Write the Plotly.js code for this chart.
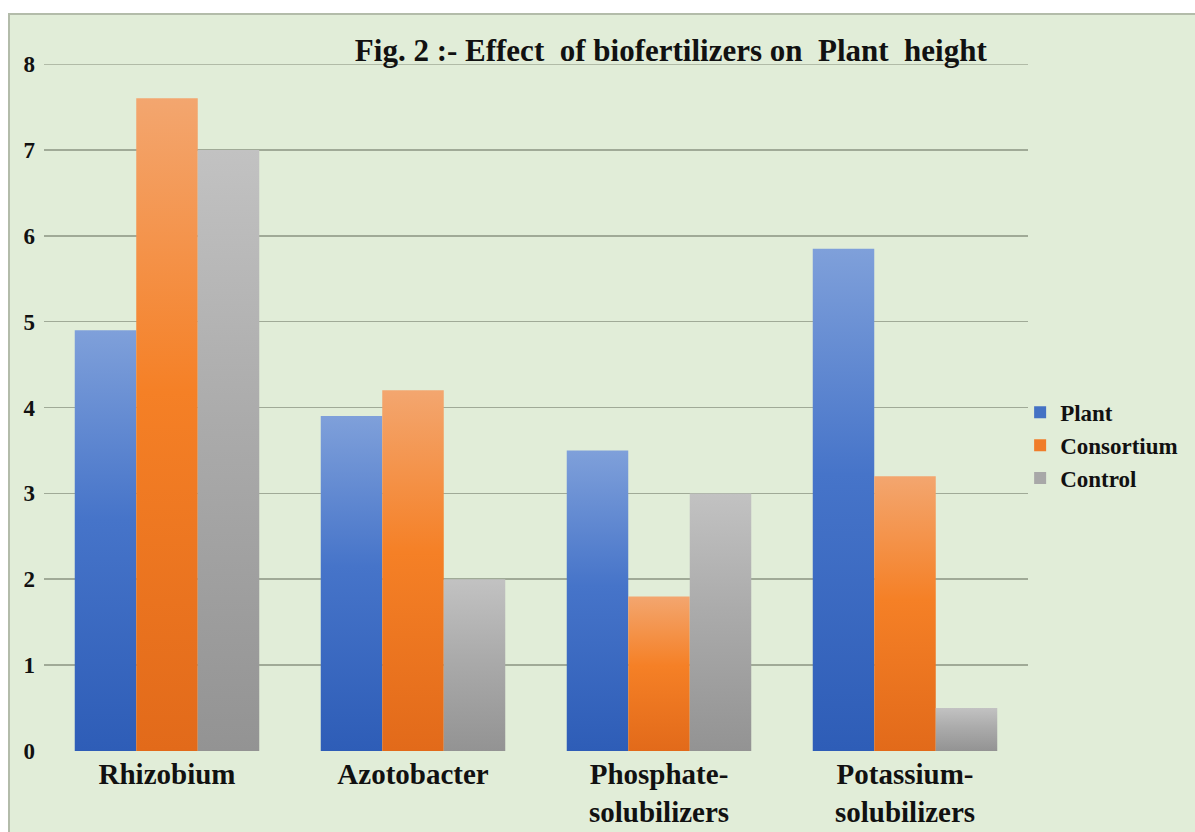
<!DOCTYPE html>
<html>
<head>
<meta charset="utf-8">
<script src="https://cdn.plot.ly/plotly-3.0.1.min.js"></script>
<style>
  html, body { margin: 0; padding: 0; background: #ffffff; width: 1195px; height: 832px; overflow: hidden; }
  #frame { position: absolute; left: 8px; top: 13px; width: 1187px; height: 819px; background: #e1edd8;
           border-left: 2px solid #b3bcaa; border-top: 2px solid #b3bcaa; box-sizing: border-box; }
  #chart { position: absolute; left: 0; top: 0; width: 1195px; height: 832px; }
</style>
</head>
<body>
<div id="frame"></div>
<div id="chart"></div>
<script>
const categories = ["Rhizobium", "Azotobacter", "Phosphate-<br>solubilizers", "Potassium-<br>solubilizers"];
const seriesNames = ["Plant", "Consortium", "Control"];
const plantValues = [4.9, 3.9, 3.5, 5.85];
const consortiumValues = [7.6, 4.2, 1.8, 3.2];
const controlValues = [7.0, 2.0, 3.0, 0.5];
const yTicks = [0, 1, 2, 3, 4, 5, 6, 7, 8];

const midColors = ["#4472c4", "#f07d2a", "#a8a8a8"];
const gradStops = [
  ["#7fa0da", "#4674c9", "#2e5db7"],
  ["#f3a66f", "#f58026", "#e26a1a"],
  ["#c2c2c2", "#ababab", "#939393"]
];
const FONT = "'Liberation Serif', 'Times New Roman', serif";

const values = [plantValues, consortiumValues, controlValues];
const traces = values.map((v, i) => ({
  type: "bar",
  name: seriesNames[i],
  x: categories,
  y: v,
  marker: { color: midColors[i], line: { width: 0 } },
  hoverinfo: "skip"
}));

const layout = {
  width: 1195, height: 832,
  paper_bgcolor: "rgba(0,0,0,0)",
  plot_bgcolor: "rgba(0,0,0,0)",
  margin: { l: 44, r: 167, t: 64, b: 81, autoexpand: false },
  barmode: "group",
  bargap: 0.25,
  bargroupgap: 0,
  showlegend: true,
  title: {
    text: "Fig. 2 :- Effect  of biofertilizers on  Plant  height",
    font: { family: FONT, size: 31, color: "#111", weight: "bold" },
    x: 0.637, xanchor: "center", xref: "paper",
    y: 0.94, yanchor: "middle", yref: "container"
  },
  xaxis: {
    type: "category",
    tickfont: { family: FONT, size: 29, color: "#111", weight: "bold" },
    showgrid: false, zeroline: false, showline: false,
    ticks: "", fixedrange: true, ticklabelstandoff: 3
  },
  yaxis: {
    range: [0, 8],
    tickvals: yTicks,
    ticktext: yTicks.map(String),
    tickfont: { family: FONT, size: 23, color: "#111", weight: "bold" },
    showgrid: true, gridcolor: "#a0aa97", gridwidth: 1.6,
    zeroline: false, showline: false, ticks: "", fixedrange: true,
    ticklabelstandoff: 8
  },
  shapes: [{
    type: "line", xref: "paper", yref: "y", x0: 0, x1: 1, y0: 8, y1: 8,
    line: { color: "#a0aa97", width: 1.6 }, layer: "below"
  }],
  legend: {
    x: 0.992, xanchor: "left",
    y: 0.445, yanchor: "middle",
    font: { family: FONT, size: 23, color: "#111", weight: "bold" },
    bgcolor: "rgba(0,0,0,0)",
    itemwidth: 30, tracegroupgap: 0
  }
};

function applyGradients(gd) {
  const svg = gd.querySelector("svg.main-svg");
  if (!svg) return;
  let defs = svg.querySelector("defs#bargrads");
  if (!defs) {
    defs = document.createElementNS("http://www.w3.org/2000/svg", "defs");
    defs.setAttribute("id", "bargrads");
    svg.insertBefore(defs, svg.firstChild);
    gradStops.forEach((stops, i) => {
      const lg = document.createElementNS("http://www.w3.org/2000/svg", "linearGradient");
      lg.setAttribute("id", "bg" + i);
      lg.setAttribute("x1", "0"); lg.setAttribute("y1", "0");
      lg.setAttribute("x2", "0"); lg.setAttribute("y2", "1");
      [[0, stops[0]], [0.45, stops[1]], [1, stops[2]]].forEach(([o, c]) => {
        const s = document.createElementNS("http://www.w3.org/2000/svg", "stop");
        s.setAttribute("offset", o);
        s.setAttribute("stop-color", c);
        lg.appendChild(s);
      });
      defs.appendChild(lg);
    });
  }
  gd.querySelectorAll(".barlayer .trace.bars").forEach((tr, i) => {
    tr.querySelectorAll("path").forEach(p => { p.style.fill = "url(#bg" + i + ")"; });
  });
}

const gd = document.getElementById("chart");
Plotly.newPlot(gd, traces, layout, { displayModeBar: false, staticPlot: true }).then(() => {
  applyGradients(gd);
  gd.on("plotly_afterplot", () => applyGradients(gd));
});
</script>
</body>
</html>
